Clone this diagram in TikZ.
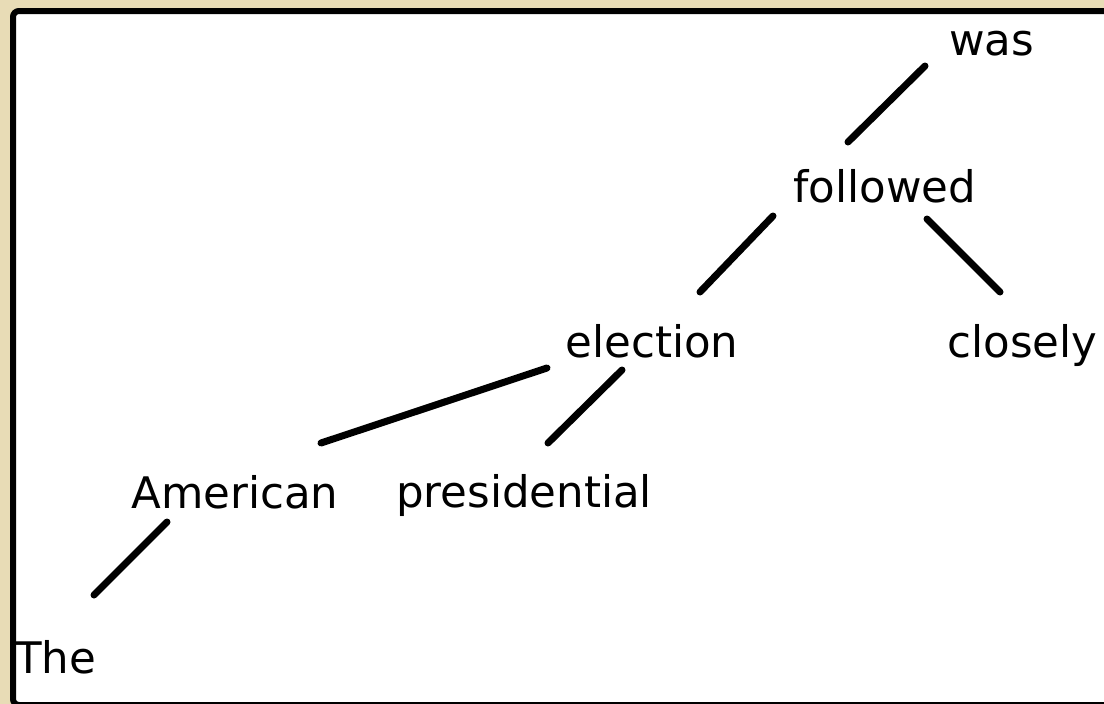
\documentclass[tikz,border=0pt]{standalone}
\usepackage{fontspec}
\setmainfont{DejaVu Sans}
\definecolor{beige}{HTML}{E8DCB6}
\begin{document}
\begin{tikzpicture}[x=1pt,y=-1pt,
  word/.style={anchor=base,inner sep=0pt,font=\fontsize{43.5}{50}\selectfont},
  edge/.style={line width=7pt,line cap=round}]
\useasboundingbox (0,0) rectangle (1104,704);
\fill[beige] (0,0) rectangle (1104,704);
\clip (0,0) rectangle (1104,704);
\draw[line width=6pt,fill=white,rounded corners=6pt] (13,11) rectangle (1115,705);
\node[word] (was) at (991.5,55) {was};
\node[word] (followed) at (885,202) {followed};
\node[word] (election) at (652,357) {election};
\node[word] (closely) at (1022.5,357) {closely};
\node[word] (american) at (235,508) {American};
\node[word] (presidential) at (524,507) {presidential};
\node[word,anchor=base west] (the) at (15,673) {The};
\coordinate (e1a) at (925,66);  \coordinate (e1b) at (848,142);
\coordinate (e2a) at (773,216); \coordinate (e2b) at (700,292);
\coordinate (e3a) at (927,219); \coordinate (e3b) at (1000,292);
\coordinate (e4a) at (547,368); \coordinate (e4b) at (321,443);
\coordinate (e5a) at (622,370); \coordinate (e5b) at (548,443);
\coordinate (e6a) at (167,522); \coordinate (e6b) at (94,595);
\draw[edge] (e1a) -- (e1b);
\draw[edge] (e2a) -- (e2b);
\draw[edge] (e3a) -- (e3b);
\draw[edge] (e4a) -- (e4b);
\draw[edge] (e5a) -- (e5b);
\draw[edge] (e6a) -- (e6b);
\end{tikzpicture}
\end{document}
